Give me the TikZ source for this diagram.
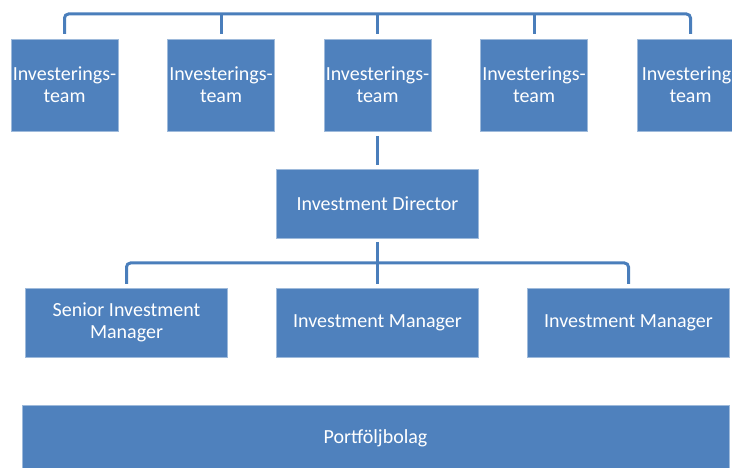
\documentclass[tikz,border=0pt]{standalone}
\usepackage{fontspec}
\setmainfont{Carlito}
\usetikzlibrary{positioning}

\definecolor{boxblue}{HTML}{4F81BD}
\definecolor{linkblue}{HTML}{4A7EBB}

\begin{document}
\begin{tikzpicture}[
        x=1pt, y=-1pt,
        node distance=49.5pt,
        box/.style={draw=boxblue!55!white, line width=0.8pt, fill=boxblue,
            text=white, inner sep=0pt, outer sep=0pt, align=center,
            font=\fontsize{20}{22}\selectfont},
        link/.style={draw=linkblue, line width=3pt}
    ]
    \useasboundingbox (0,0) rectangle (732,468);
    \clip (0,0) rectangle (732,468);

    % teams along the top
    \begin{scope}[
        every node/.style={box, minimum width=107pt, minimum height=92pt}
    ]
        \node (a1) at (64.5,85)  {Investerings-\\team};
        \node (a2) [right=of a1] {Investerings-\\team};
        \node (a3) [right=of a2] {Investerings-\\team};
        \node (a4) [right=of a3] {Investerings-\\team};
        \node (a5) [right=of a4] {Investerings\\team};
    \end{scope}

    % director and managers
    \begin{scope}[
        every node/.style={box, minimum width=202pt, minimum height=69pt}
    ]
        \node (dir) [below=38pt of a3]  {Investment Director};
        \node (b2)  [below=50pt of dir] {Investment Manager};
        \node (b1)  [left=49pt of b2]   {Senior Investment\\Manager};
        \node (b3)  [right=49pt of b2]  {Investment Manager};
    \end{scope}
    \node (pf) [box, minimum width=707pt, minimum height=66pt,
        below=48pt of b2, xshift=-2pt] {Portföljbolag};

    % connectors
    \coordinate (bus)   at (377.5,14);
    \coordinate (split) at (377.5,263);
    \draw [link, rounded corners=4pt, shorten <=5pt, shorten >=5pt]
        (a1.north) |- (bus) -| (a5.north);
    \foreach \t in {a2,a3,a4}
        \draw [link, shorten <=5pt] (\t.north) -- (\t.north |- bus);
    \draw [link, shorten <=5pt, shorten >=4pt] (a3) -- (dir);
    \draw [link, rounded corners=4pt, shorten <=4pt, shorten >=4pt]
        (b1.north) |- (split) -| (b3.north);
    \draw [link, shorten <=4pt, shorten >=4pt] (dir) -- (b2);
\end{tikzpicture}
\end{document}
